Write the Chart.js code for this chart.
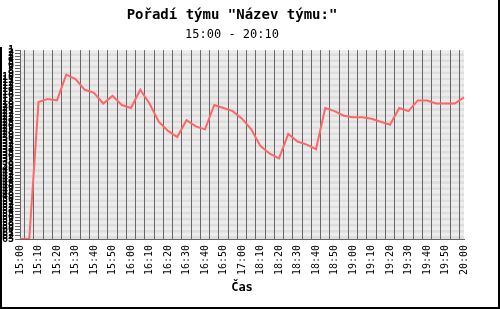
<!DOCTYPE html>
<html>
<head>
<meta charset="utf-8">
<script src="https://cdn.jsdelivr.net/npm/chart.js@4"></script>
<style>
  html, body { margin: 0; padding: 0; background: #fff; }
  #wrap { width: 500px; height: 309px; }
</style>
</head>
<body>
<div id="wrap"><canvas id="lineChart" width="500" height="309"></canvas></div>
<script>
// time of each measurement (5 min apart, gap after 17:00)
var times = [
    '15:00', '15:05', '15:10', '15:15', '15:20', '15:25', '15:30', '15:35', '15:40', '15:45',
    '15:50', '15:55', '16:00', '16:05', '16:10', '16:15', '16:20', '16:25', '16:30', '16:35',
    '16:40', '16:45', '16:50', '16:55', '17:00', '18:05', '18:10', '18:15', '18:20', '18:25',
    '18:30', '18:35', '18:40', '18:45', '18:50', '18:55', '19:00', '19:05', '19:10', '19:15',
    '19:20', '19:25', '19:30', '19:35', '19:40', '19:45', '19:50', '19:55', '20:00'
];

// team rank at each time (1 = best)
var ranks = [
    63, 63, 18, 17, 17.5, 9, 10.5, 14, 15, 18.5,
    16, 19, 20, 14, 18.5, 24.5, 27.5, 29.5, 24, 26,
    27, 19, 20, 21, 23.5, 27, 32.5, 35, 36.5, 28.5,
    31, 32, 33.5, 20, 21, 22.5, 23, 23, 23.5, 24.5,
    25.5, 20, 21, 17.5, 17.5, 18.5, 18.5, 18.5, 16.5
];

var rankMin = 1;
var rankMax = 63;

var mono = 'DejaVu Sans Mono';

// striped plot background, one band per rank
var stripes = {
    id: 'stripes',
    beforeDraw: function(chart) {
        var ctx = chart.ctx;
        var area = chart.chartArea;
        var y = chart.scales.y;
        ctx.save();
        for (var r = rankMin; r < rankMax; r++) {
            var y1 = y.getPixelForValue(r);
            var y2 = y.getPixelForValue(r + 1);
            ctx.fillStyle = (r % 2) ? '#ececec' : '#dddddd';
            ctx.fillRect(area.left, y1, area.right - area.left, y2 - y1);
        }
        ctx.restore();
    }
};

// black frame round the picture
var frame = {
    id: 'frame',
    afterDraw: function(chart) {
        var ctx = chart.ctx;
        ctx.save();
        ctx.strokeStyle = '#000';
        ctx.lineWidth = 2;
        ctx.beginPath();
        ctx.moveTo(1, 47);
        ctx.lineTo(1, 308);
        ctx.lineTo(499, 308);
        ctx.lineTo(499, 0);
        ctx.stroke();
        ctx.restore();
    }
};

var ctx = document.getElementById('lineChart').getContext('2d');
new Chart(ctx, {
    type: 'line',
    data: {
        labels: times,
        datasets: [{
            label: 'Pořadí',
            data: ranks,
            borderColor: '#ff6666',
            borderWidth: 2,
            pointRadius: 0,
            fill: false,
            tension: 0
        }]
    },
    options: {
        responsive: false,
        animation: false,
        layout: { padding: { left: 0, right: 36, top: 0, bottom: 0 } },
        plugins: {
            legend: { display: false },
            tooltip: { enabled: false },
            title: {
                display: true,
                text: 'Pořadí týmu "Název týmu:"',
                color: '#000',
                font: { family: mono, size: 14, weight: 'bold' },
                padding: { top: 7, bottom: 4 }
            },
            subtitle: {
                display: true,
                text: '15:00 - 20:10',
                color: '#000',
                font: { family: mono, size: 12 },
                padding: { top: 0, bottom: 8 }
            }
        },
        scales: {
            x: {
                afterFit: function(scale) { scale.height = 70; },
                grid: {
                    offset: true,
                    color: '#666',
                    lineWidth: 1,
                    drawTicks: false
                },
                border: { color: '#666', width: 1 },
                ticks: {
                    autoSkip: false,
                    minRotation: 90,
                    maxRotation: 90,
                    padding: 6,
                    color: '#000',
                    font: { family: mono, size: 10 },
                    callback: function(value, index) {
                        return index % 2 === 0 ? times[index] : '';
                    }
                },
                title: {
                    display: true,
                    text: 'Čas',
                    color: '#000',
                    font: { family: mono, size: 12, weight: 'bold' },
                    padding: { top: 0, bottom: 14 }
                }
            },
            y: {
                reverse: true,
                min: rankMin,
                max: rankMax,
                afterFit: function(scale) { scale.width = 20; },
                grid: {
                    drawOnChartArea: false,
                    color: '#666',
                    tickLength: 5
                },
                border: { color: '#666', width: 1 },
                ticks: {
                    stepSize: 1,
                    autoSkip: false,
                    padding: 1,
                    color: '#000',
                    font: { family: mono, size: 10, weight: 'bold' }
                }
            }
        }
    },
    plugins: [stripes, frame]
});
</script>
</body>
</html>
